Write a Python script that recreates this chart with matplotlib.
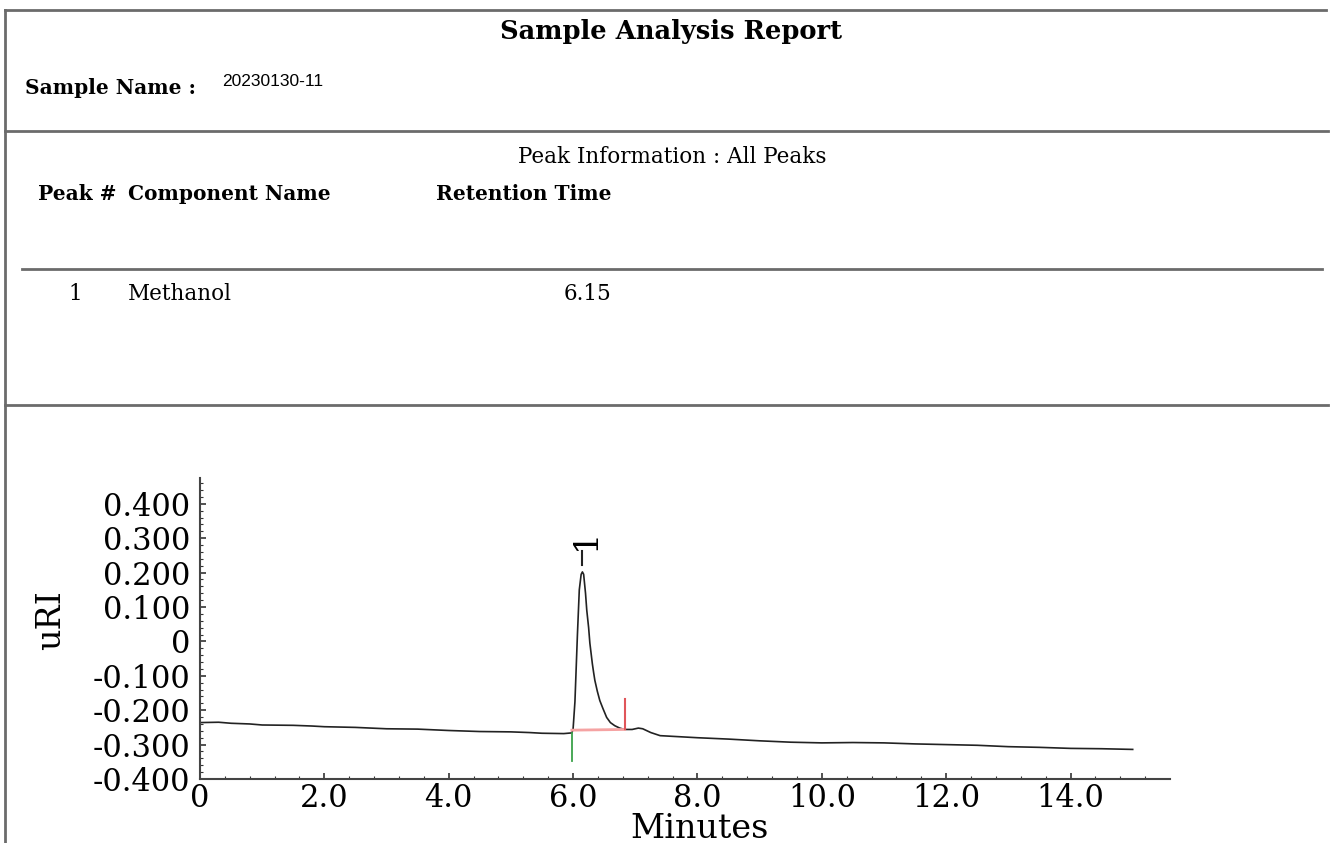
import matplotlib
matplotlib.use("Agg")
import matplotlib.pyplot as plt
from matplotlib.lines import Line2D

plt.rcParams["font.family"] = ["DejaVu Serif"]

# -------------------------------
# report data
# -------------------------------
report_title = "Sample Analysis Report"
sample_name = "20230130-11"
table_title = "Peak Information : All Peaks"
table_headers = ["Peak #", "Component Name", "Retention Time"]
peak_numbers = ["1"]
component_names = ["Methanol"]
retention_times = ["6.15"]

# chromatogram trace (minutes, uRI)
minutes = [0.0, 0.3, 0.5, 0.8, 1.0, 1.5, 1.8, 2.0, 2.5, 3.0, 3.5, 4.0, 4.5,
           5.0, 5.3, 5.5, 5.85,
           5.98, 6.00, 6.03, 6.07, 6.10, 6.13, 6.15, 6.17, 6.20, 6.22, 6.25,
           6.27, 6.29, 6.31, 6.33, 6.35, 6.39, 6.43, 6.48, 6.54, 6.60, 6.67,
           6.75, 6.83, 6.95, 7.05, 7.12, 7.25, 7.40,
           7.6, 8.0, 8.5, 9.0, 9.5, 10.0, 10.5, 11.0, 11.5, 12.0, 12.5, 13.0,
           13.5, 14.0, 14.5, 15.0]
uri = [-0.236, -0.235, -0.238, -0.240, -0.243, -0.244, -0.246, -0.248,
       -0.250, -0.254, -0.255, -0.259, -0.262, -0.263, -0.265, -0.267, -0.268,
       -0.266, -0.255, -0.175, 0.020, 0.150, 0.195, 0.202, 0.195, 0.140,
       0.091, 0.040, -0.005, -0.035, -0.065, -0.090, -0.113, -0.145, -0.172,
       -0.195, -0.221, -0.236, -0.245, -0.252, -0.256,
       -0.256, -0.252, -0.254, -0.265, -0.274,
       -0.276, -0.280, -0.284, -0.289, -0.293, -0.295, -0.294, -0.295,
       -0.298, -0.300, -0.302, -0.306, -0.308, -0.311, -0.312, -0.314]

# integration marks
peak_start = 5.98
peak_end = 6.83
baseline_start = -0.258
baseline_end = -0.256
start_mark_low = -0.347
end_mark_high = -0.167
peak_rt = 6.15

x_ticks = [0, 2, 4, 6, 8, 10, 12, 14]
x_labels = ["0", "2.0", "4.0", "6.0", "8.0", "10.0", "12.0", "14.0"]
y_ticks = [-0.4, -0.3, -0.2, -0.1, 0, 0.1, 0.2, 0.3, 0.4]
y_labels = ["-0.400", "-0.300", "-0.200", "-0.100", "0",
            "0.100", "0.200", "0.300", "0.400"]

W, H = 1330, 843


def fx(x):
    return x / W


def fy(y):
    return 1 - y / H


fig = plt.figure(figsize=(13.3, 8.43), dpi=100)

# -------------------------------
# report frame
# -------------------------------
frame_col = "#6b6b6b"
for x0, x1, y in [(5, 1326, 10), (5, 1328, 131), (22, 1322, 269), (5, 1328, 405)]:
    fig.add_artist(Line2D([fx(x0), fx(x1)], [fy(y), fy(y)], color=frame_col,
                          lw=2, transform=fig.transFigure))
fig.add_artist(Line2D([fx(5), fx(5)], [fy(10), fy(843)], color=frame_col,
                      lw=2, transform=fig.transFigure))

# -------------------------------
# header text
# -------------------------------
fig.text(fx(671), fy(32), report_title, fontsize=18.5, fontweight="bold",
         ha="center", va="center")
fig.text(fx(25), fy(88), "Sample Name :", fontsize=14.5, fontweight="bold",
         ha="left", va="center")
fig.text(fx(222), fy(81), sample_name, fontsize=12.5,
         family=["Liberation Sans Narrow", "Liberation Sans", "DejaVu Sans"],
         ha="left", va="center")
fig.text(fx(672), fy(157), table_title, fontsize=15.5, ha="center", va="center")

fig.text(fx(38), fy(194), table_headers[0], fontsize=14.5, fontweight="bold",
         ha="left", va="center")
fig.text(fx(128), fy(194), table_headers[1], fontsize=14.5, fontweight="bold",
         ha="left", va="center")
fig.text(fx(611), fy(194), table_headers[2], fontsize=14.5, fontweight="bold",
         ha="right", va="center")

for i in range(len(peak_numbers)):
    row_y = 294 + i * 30
    fig.text(fx(75), fy(row_y), peak_numbers[i], fontsize=15.5, ha="center", va="center")
    fig.text(fx(128), fy(row_y), component_names[i], fontsize=15.5, ha="left", va="center")
    fig.text(fx(611), fy(row_y), retention_times[i], fontsize=15.5, ha="right", va="center")

# -------------------------------
# chromatogram
# -------------------------------
ax = fig.add_axes([fx(200), fy(779), 970 / W, 301 / H])
ax.plot(minutes, uri, color="#222222", lw=1.2)

ax.plot([peak_start, peak_end], [baseline_start, baseline_end], color="#f5a3a3", lw=2)
ax.plot([peak_start, peak_start], [uri[minutes.index(peak_start)], start_mark_low],
        color="#3aa14a", lw=1.3)
ax.plot([peak_end, peak_end], [baseline_end, end_mark_high], color="#e0555a", lw=1.5)

# peak label
ax.plot([peak_rt, peak_rt], [0.222, 0.263], color="#222222", lw=1.5)
ax.text(peak_rt + 0.06, 0.298, peak_numbers[0], rotation=90, fontsize=24,
        ha="center", va="center")

ax.set_xlim(0, 15.6)
ax.set_ylim(-0.4, 0.475)
ax.set_xticks(x_ticks, labels=x_labels)
ax.set_yticks(y_ticks, labels=y_labels)
ax.set_xticks([i * 0.4 for i in range(39)], minor=True)
ax.set_yticks([-0.4 + i * 0.02 for i in range(44)], minor=True)
ax.tick_params(which="both", direction="in", colors="#333333", labelcolor="black",
               labelsize=22)
ax.tick_params(which="major", length=4, width=1.2)
ax.tick_params(which="minor", length=2.5, width=0.8)
ax.tick_params(axis="x", pad=3)
ax.tick_params(axis="y", pad=7)

for side in ["top", "right"]:
    ax.spines[side].set_visible(False)
for side in ["left", "bottom"]:
    ax.spines[side].set_color("#444444")
    ax.spines[side].set_linewidth(1.5)

ax.set_xlabel("Minutes", fontsize=24, va="center")
ax.xaxis.set_label_coords((700 - 200) / 970, (779 - 829) / 301)
ax.set_ylabel("uRI", fontsize=24, va="center")
ax.yaxis.set_label_coords((51 - 200) / 970, (779 - 620) / 301)

plt.savefig("out.png", dpi=100)
plt.close()
